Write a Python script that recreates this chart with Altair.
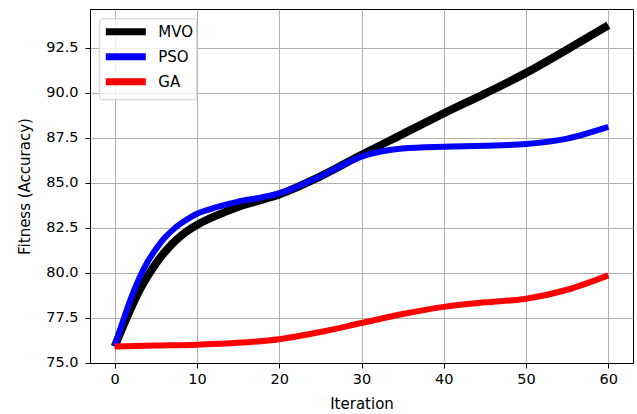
import altair as alt
import pandas as pd

series_order = ["MVO", "PSO", "GA"]
series_colors = ["#000000", "#0000ff", "#ff0000"]

mvo_x = [0, 1, 2, 3, 4, 5, 6, 7, 8, 9, 10, 12.5, 15, 17.5, 20, 25, 30, 35, 40, 45, 50, 55, 60]
mvo_y = [75.9, 77.0, 78.05, 79.0, 79.8, 80.5, 81.1, 81.6, 82.02, 82.37, 82.65, 83.2, 83.65,
         84.0, 84.35, 85.35, 86.55, 87.7, 88.85, 89.95, 91.1, 92.4, 93.75]

pso_x = [0, 1, 2, 3, 4, 5, 6, 7, 8, 9, 10, 12.5, 15, 17.5, 20, 25, 30, 35, 40, 45, 50, 55, 60]
pso_y = [75.9, 77.3, 78.6, 79.7, 80.6, 81.3, 81.9, 82.35, 82.72, 83.02, 83.27, 83.65, 83.95,
         84.15, 84.4, 85.35, 86.45, 86.9, 87.0, 87.05, 87.15, 87.45, 88.1]

ga_x = [0, 5, 10, 15, 20, 25, 30, 35, 40, 45, 50, 55, 60]
ga_y = [75.9, 75.95, 76.0, 76.1, 76.3, 76.7, 77.2, 77.7, 78.1, 78.35, 78.55, 79.05, 79.85]

rows = []
for name, xs, ys in [("MVO", mvo_x, mvo_y), ("PSO", pso_x, pso_y), ("GA", ga_x, ga_y)]:
    for xv, yv in zip(xs, ys):
        rows.append({"Algorithm": name, "Iteration": xv, "Fitness": yv})
df = pd.DataFrame(rows)

FONT = "DejaVu Sans"

base = alt.Chart(df).encode(
    x=alt.X("Iteration:Q",
            scale=alt.Scale(domain=[-3, 63], nice=False, zero=False),
            axis=alt.Axis(values=[0, 10, 20, 30, 40, 50, 60], format="d",
                          title="Iteration", titlePadding=11, labelPadding=4)),
    y=alt.Y("Fitness:Q",
            scale=alt.Scale(domain=[74.98, 94.65], nice=False, zero=False),
            axis=alt.Axis(values=[75.0, 77.5, 80.0, 82.5, 85.0, 87.5, 90.0, 92.5],
                          format=".1f", title="Fitness (Accuracy)", titlePadding=13,
                          labelPadding=7)),
    color=alt.Color("Algorithm:N",
                    scale=alt.Scale(domain=series_order, range=series_colors),
                    legend=alt.Legend(title=None, orient="none", legendX=9.3, legendY=9.3,
                                      symbolType="M-1,0L4.714,0", symbolSize=196,
                                      symbolStrokeWidth=7, labelFontSize=15,
                                      labelFont=FONT, labelOffset=35, rowPadding=-4,
                                      padding=3, fillColor="rgba(255,255,255,0.8)",
                                      strokeColor="#cccccc", cornerRadius=3)),
    detail="Algorithm:N",
)

lines = []
for name, w in [("MVO", 8), ("PSO", 6), ("GA", 6)]:
    lines.append(
        base.transform_filter(alt.datum.Algorithm == name)
        .mark_line(interpolate="monotone", strokeWidth=w, strokeCap="butt")
    )

chart = alt.layer(*lines).properties(
    width=543, height=354,
    autosize=alt.AutoSizeParams(type="none"),
    padding={"left": 90, "top": 9, "right": 4, "bottom": 51},
    background="white",
).configure_axis(
    grid=True, gridColor="#b0b0b0", gridWidth=1,
    domainColor="#000000", domainWidth=1,
    tickColor="#000000", tickSize=5, tickWidth=1,
    labelFont=FONT, labelFontSize=14.5, labelColor="#000000",
    titleFont=FONT, titleFontSize=15, titleFontWeight="normal", titleColor="#000000",
).configure_view(
    stroke="#000000", strokeWidth=1,
)

chart.save("out.html", embed_options={"renderer": "svg", "actions": False})
